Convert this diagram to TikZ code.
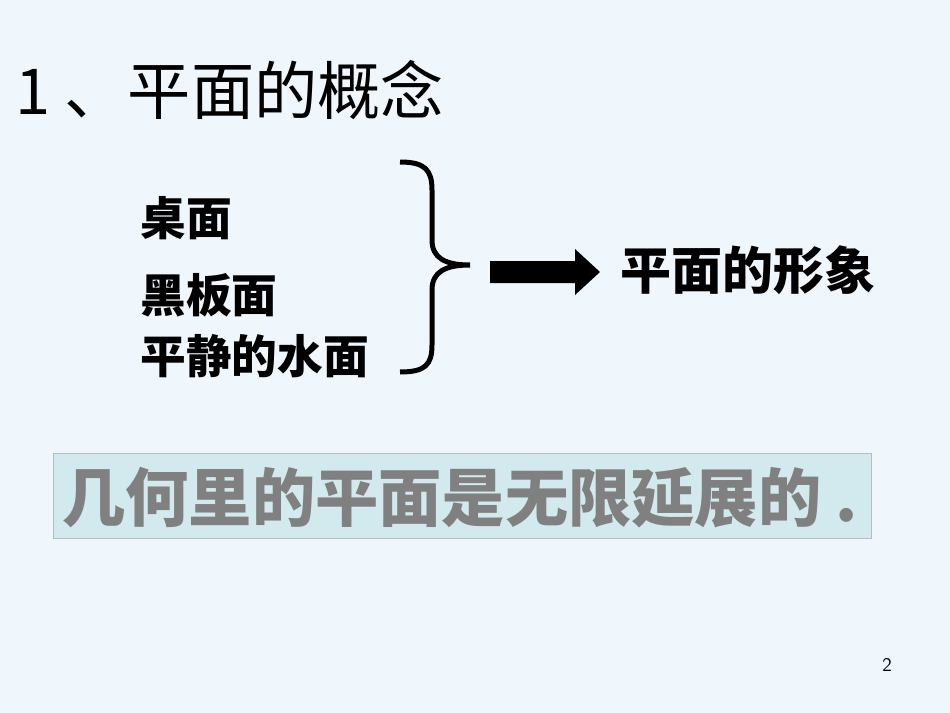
\documentclass[tikz,border=0pt]{standalone}
\usepackage{fontspec}
\newfontfamily\cjk{Noto Sans CJK SC}
\newfontfamily\cjkb{Noto Sans CJK SC Bold}
\begin{document}
\begin{tikzpicture}[x=0.02cm,y=-0.02cm,
  item/.style={anchor=west,inner sep=0,font=\fontsize{26}{30}\selectfont\bfseries\cjk},
  every node/.style={text=black}]
\fill[fill={rgb,255:red,239;green,247;blue,253}] (0,0) rectangle (950,713);
\useasboundingbox (0,0) rectangle (950,713);
\node[anchor=west,inner sep=0,font=\fontsize{36}{40}\selectfont\cjk] (title) at (15,90) {1 、平面的概念};
\node[item] (a) at (140,218) {桌面};
\node[item] (b) at (140,295) {黑板面};
\node[item] (c) at (140,356) {平静的水面};
\draw[line width=0.1cm] (400,162) .. controls (425,162) and (432,170) .. (432,190)
  -- (432,240) .. controls (432,258) and (445,265) .. (470,265)
  .. controls (445,265) and (432,272) .. (432,290)
  -- (432,345) .. controls (432,365) and (425,372) .. (400,372);
\coordinate (s) at (490,272);
\node[anchor=west,inner sep=0,font=\fontsize{29}{33}\selectfont\bfseries\cjk] (r) at (620,270) {平面的形象};
\fill (490,261) -- (575,261) -- (575,249) -- (600,272) -- (575,295) -- (575,283) -- (490,283) -- cycle;
\node[draw={rgb,255:red,180;green,190;blue,195},fill={rgb,255:red,210;green,233;blue,238},minimum width=818*0.02cm,minimum height=85*0.02cm,inner sep=0] (box) at (462,496) {};
\node[anchor=west,inner sep=0,text={rgb,255:red,128;green,128;blue,128},font=\fontsize{36}{40}\selectfont\bfseries\cjk] (t) at (62,498) {几何里的平面是无限延展的 .};
\node[font=\fontsize{11}{13}\selectfont\sffamily] (n) at (887,665) {2};
\end{tikzpicture}
\end{document}
